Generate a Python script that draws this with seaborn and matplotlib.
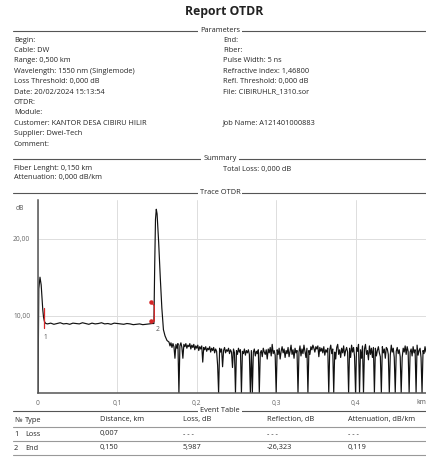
import matplotlib
matplotlib.use("Agg")
import numpy as np
import pandas as pd
import matplotlib.pyplot as plt
from matplotlib.lines import Line2D
import seaborn as sns

W, H = 427, 468

# trace samples (km, dB)
launch_km = [0.0, 0.001, 0.0025, 0.004, 0.005, 0.006, 0.007, 0.008, 0.009, 0.010]
launch_db = [0.0, 13.5, 15.0, 14.0, 12.3, 10.8, 9.8, 9.3, 9.1, 9.0]

flat_km = np.round(np.arange(0.012, 0.1441, 0.004), 4)
flat_db = [8.95, 9.05, 8.9, 9.0, 9.1, 8.95, 9.0, 8.9, 9.05, 9.0,
           8.95, 9.1, 9.0, 8.9, 9.05, 8.95, 9.0, 9.1, 8.95, 9.0,
           8.9, 9.05, 9.0, 8.95, 8.9, 9.0, 8.95, 8.85, 8.9, 8.95,
           8.85, 8.9, 8.95, 9.0]

refl_km = [0.146, 0.147, 0.148, 0.149, 0.150, 0.152, 0.154, 0.156, 0.158, 0.160, 0.1625]
refl_db = [9.0, 16.5, 22.5, 23.8, 23.2, 19.5, 15.0, 11.0, 8.2, 7.4, 6.8]

noise_km = np.round(np.arange(0.165, 0.49001, 0.00125), 5)
noise_db = [6.6, 6.1, 6.5, 5.9, 6.4, 6.0, 4.5, 6.3, 5.8, 6.4, 0.0, 6.1, 6.5, 5.9, 4.5, 6.3, 6.0, 6.4, 5.8, 6.2,
            6.0, 6.4, 5.7, 6.2, 5.9, 6.3, 5.6, 6.1, 5.8, 6.2, 5.5, 6.0, 5.7, 6.1, 4.0, 5.9, 5.6, 6.0, 5.4, 5.8,
            5.6, 6.0, 5.3, 5.8, 5.5, 5.9, 5.2, 5.7, 5.4, 3.6, 0.0, 5.8, 5.3, 5.7, 3.4, 5.5, 5.9, 5.2, 5.6, 5.4,
            5.8, 5.1, 5.6, 5.3, 3.3, 5.7, 5.2, 0.0, 5.5, 5.0, 5.8, 5.3, 5.6, 0.0, 5.4, 5.1, 5.7, 4.9, 5.5, 5.2,
            5.6, 5.0, 0.0, 5.5, 0.0, 5.3, 5.7, 4.8, 5.4, 5.1, 5.6, 0.0, 5.2, 5.5, 4.7, 5.8, 5.3, 5.0, 5.6, 4.4,
            5.7, 5.2, 5.9, 4.8, 6.3, 5.1, 5.5, 4.9, 0.0, 5.6, 5.0, 5.8, 4.4, 5.4, 6.0, 5.2, 5.7, 4.6, 5.5, 5.1,
            5.9, 4.7, 5.4, 6.2, 5.0, 5.6, 4.5, 5.8, 5.2, 5.5, 0.0, 5.3, 6.1, 4.8, 5.7, 5.1, 6.2, 5.4, 4.6, 5.8,
            0.0, 5.5, 5.0, 6.0, 5.6, 6.2, 5.8, 5.3, 6.0, 5.7, 6.1, 4.7, 5.9, 5.4, 5.8, 5.2, 6.0, 4.9, 5.6, 5.3,
            5.8, 0.0, 5.6, 6.2, 5.1, 5.7, 0.0, 5.3, 4.4, 5.9, 6.3, 5.0, 5.6, 4.6, 5.8, 5.2, 6.1, 4.8, 5.5, 5.9,
            5.3, 0.0, 5.8, 4.6, 6.2, 5.3, 5.9, 4.7, 0.0, 5.9, 5.4, 6.3, 0.0, 5.6, 4.5, 6.1, 0.0, 5.7, 6.3, 5.0,
            5.5, 4.3, 6.1, 5.0, 5.8, 4.6, 5.9, 0.0, 5.8, 4.8, 5.5, 6.0, 5.2, 4.7, 0.0, 6.0, 5.2, 5.7, 4.5, 5.9,
            5.7, 5.0, 0.0, 4.9, 6.2, 5.3, 5.8, 4.6, 0.0, 5.4, 5.9, 5.1, 5.6, 4.7, 0.0, 4.6, 5.8, 5.3, 6.1, 5.0,
            6.0, 5.4, 0.0, 5.3, 5.7, 4.8, 6.0, 5.2, 5.6, 0.0, 6.2, 4.9, 5.5, 5.8, 4.6, 0.0, 5.5, 5.1, 6.0, 5.3,
            5.6]

# event markers
ev1_km = [0.007, 0.007]
ev1_db = [11.0, 8.4]
ev2_km = [0.1425, 0.1465, 0.1465, 0.1425]
ev2_db = [11.8, 11.3, 9.3, 9.3]
ev_labels = ["1", "2"]
ev_label_km = [0.009, 0.150]
ev_label_db = [7.2, 8.2]

x_ticks = [0, 0.1, 0.2, 0.3, 0.4]
x_ticklabels = ["0", "0,1", "0,2", "0,3", "0,4"]
y_ticks = [10, 20]
y_ticklabels = ["10,00", "20,00"]

params_left = ["Begin:", "Cable: DW", "Range: 0,500 km",
               "Wavelength: 1550 nm (Singlemode)", "Loss Threshold: 0,000 dB",
               "Date: 20/02/2024 15:13:54", "OTDR:", "Module:",
               "Customer: KANTOR DESA CIBIRU HILIR", "Supplier: Dwei-Tech", "Comment:"]
params_right = ["End:", "Fiber:", "Pulse Width: 5 ns", "Refractive index: 1,46800",
                "Refl. Threshold: 0,000 dB", "File: CIBIRUHLR_1310.sor", "", "",
                "Job Name: A121401000883", "", ""]
summary_left = ["Fiber Lenght: 0,150 km", "Attenuation: 0,000 dB/km"]
summary_right = ["Total Loss: 0,000 dB", ""]

table_cols = ["Type", "Distance, km", "Loss, dB", "Reflection, dB", "Attenuation, dB/km"]
table_rows = [
    ["1", "Loss", "0,007", "- - -", "- - -", "- - -"],
    ["2", "End", "0,150", "5,987", "-26,323", "0,119"],
]

sns.set_style("white")
plt.rcParams["font.family"] = ["Open Sans", "DejaVu Sans"]

trace = pd.DataFrame({
    "km": list(launch_km) + list(flat_km) + list(refl_km) + list(noise_km),
    "db": list(launch_db) + list(flat_db) + list(refl_db) + list(noise_db),
})

fig = plt.figure(figsize=(W / 100, H / 100), dpi=100)
FS = 5.3
TXT = "#262626"


def fx(x):
    return x / W


def fy(y):
    return 1 - y / H


def section(y, label):
    fig.add_artist(Line2D([fx(13), fx(427)], [fy(y), fy(y)], color="#555555", lw=0.8))
    fig.text(fx(220), fy(y), label, ha="center", va="center", fontsize=FS, color=TXT,
             bbox=dict(facecolor="white", edgecolor="none", pad=1.5))


fig.text(fx(224), fy(12), "Report OTDR", ha="center", va="center",
         fontsize=8.8, fontweight="bold", color="#222222")

section(31, "Parameters")
for i, (l, r) in enumerate(zip(params_left, params_right)):
    y = 40 + i * 10.4
    fig.text(fx(14), fy(y), l, ha="left", va="center", fontsize=FS, color=TXT)
    if r:
        fig.text(fx(223), fy(y), r, ha="left", va="center", fontsize=FS, color=TXT)

section(159, "Summary")
for i, (l, r) in enumerate(zip(summary_left, summary_right)):
    y = 169 + i * 9
    fig.text(fx(14), fy(y), l, ha="left", va="center", fontsize=FS, color=TXT)
    if r:
        fig.text(fx(223), fy(y), r, ha="left", va="center", fontsize=FS, color=TXT)

section(193, "Trace OTDR")

ax = fig.add_axes([fx(38), fy(393), (W - 38) / W, (393 - 200) / H])
sns.lineplot(data=trace, x="km", y="db", color="#111111", lw=0.85, ax=ax,
             sort=False, estimator=None)
ax.plot(ev1_km, ev1_db, color="#d62728", lw=0.9)
ax.plot(ev2_km, ev2_db, color="#d62728", lw=0.9)
ax.scatter([ev2_km[0], ev2_km[-1]], [ev2_db[0], ev2_db[-1]], s=5, color="#d62728", zorder=5)
for t, xk, yd in zip(ev_labels, ev_label_km, ev_label_db):
    ax.text(xk, yd, t, fontsize=4.8, color="#555555", ha="center", va="center")

ax.set_xlim(0, 0.49)
ax.set_ylim(0, 25)
ax.set_xticks(x_ticks)
ax.set_xticklabels(x_ticklabels)
ax.set_yticks(y_ticks)
ax.set_yticklabels(y_ticklabels)
ax.set_xlabel("")
ax.set_ylabel("")
ax.tick_params(axis="both", labelsize=4.8, colors="#666666", length=2.5, width=0.6, pad=3)
ax.tick_params(axis="x", length=0, pad=5)
ax.grid(True, color="#dddddd", lw=0.7)
for s in ["top", "right"]:
    ax.spines[s].set_visible(False)
for s in ["left", "bottom"]:
    ax.spines[s].set_color("#555555")
    ax.spines[s].set_linewidth(1.1)
fig.text(fx(20), fy(208), "dB", ha="center", va="center", fontsize=4.8, color="#555555")
fig.text(fx(421), fy(403), "km", ha="center", va="center", fontsize=4.8, color="#555555")

section(411, "Event Table")
col_x = [100, 183, 267, 348]
fig.text(fx(14), fy(420), "№", ha="left", va="center", fontsize=FS, color=TXT)
fig.text(fx(25), fy(420), table_cols[0], ha="left", va="center", fontsize=FS, color=TXT)
for cx, c in zip(col_x, table_cols[1:]):
    fig.text(fx(cx), fy(420), c, ha="left", va="center", fontsize=FS, color=TXT)
for ly in [427, 441, 455]:
    fig.add_artist(Line2D([fx(13), fx(427)], [fy(ly), fy(ly)], color="#999999", lw=0.8))
for i, row in enumerate(table_rows):
    y = 434 + i * 14
    fig.text(fx(14), fy(y), row[0], ha="left", va="center", fontsize=FS, color=TXT)
    fig.text(fx(25), fy(y), row[1], ha="left", va="center", fontsize=FS, color=TXT)
    for cx, v in zip(col_x, row[2:]):
        fig.text(fx(cx), fy(y), v, ha="left", va="center", fontsize=FS, color=TXT)

fig.savefig("out.png", dpi=100, facecolor="white")
